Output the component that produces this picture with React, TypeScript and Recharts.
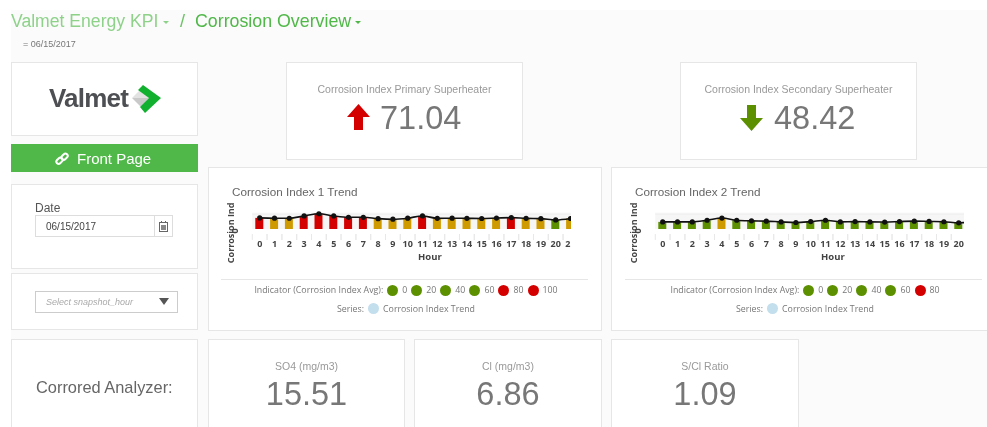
import React from "react";
import { Bar, CartesianGrid, Cell, ComposedChart, Line, XAxis, YAxis } from "recharts";

const hours = [0, 1, 2, 3, 4, 5, 6, 7, 8, 9, 10, 11, 12, 13, 14, 15, 16, 17, 18, 19, 20, 21];
const index1Values = [75, 73, 72.5, 88, 103, 88, 79, 79, 70, 66, 73, 88, 72, 73, 72, 71, 74, 77, 72, 70, 61, 71];
const index2Values = [48, 48, 48, 59, 74, 59, 55, 53, 48, 44, 50, 59, 48, 50, 48, 47, 50, 53, 51, 49, 42, 46];
const index1Legend = [0, 20, 40, 60, 80, 100];
const index2Legend = [0, 20, 40, 60, 80];

const RED = "#d40000";
const AMBER = "#cf9a00";
const GREEN = "#5c9000";
const FONT = "'Liberation Sans', Arial, sans-serif";
const AXIS_FONT = "'Open Sans', sans-serif";
const STEP = 14.8;

const barColor = (v: number) => (v >= 75 ? RED : v >= 65 ? AMBER : GREEN);

const Box = ({ x, y, w, h, children, style }: any) => (
  <div
    style={{
      position: "absolute",
      left: x,
      top: y,
      width: w,
      height: h,
      boxSizing: "border-box",
      background: "#fff",
      border: "1px solid #e6e6e6",
      ...style,
    }}
  >
    {children}
  </div>
);

const Txt = ({ x, y, children, style }: any) => (
  <div
    style={{
      position: "absolute",
      left: x,
      top: y,
      transform: "translateY(-50%)",
      whiteSpace: "nowrap",
      fontFamily: FONT,
      ...style,
    }}
  >
    {children}
  </div>
);

const Centered = ({ cx, y, w = 240, children, style }: any) => (
  <Txt x={cx - w / 2} y={y} style={{ width: w, textAlign: "center", ...style }}>
    {children}
  </Txt>
);

const Caret = ({ x, color }: any) => (
  <svg width={6} height={3} style={{ position: "absolute", left: x, top: 21 }}>
    <polygon points="0,0 6,0 3,3" fill={color} />
  </svg>
);

const HourTick = ({ x, y, payload }: any) => (
  <g>
    <line x1={x - STEP / 2} x2={x - STEP / 2} y1={y - 3} y2={y + 3} stroke="#e8e8e8" />
    <line x1={x + STEP / 2} x2={x + STEP / 2} y1={y - 3} y2={y + 3} stroke="#e8e8e8" />
    <text x={x} y={y + 10} textAnchor="middle" fontSize={9} fontWeight={700} fontFamily={AXIS_FONT} fill="#444">
      {payload.value}
    </text>
  </g>
);

const ZeroTick = ({ x, y, payload }: any) => (
  <text
    transform={`rotate(-90 ${x - 9} ${y + 2})`}
    x={x - 9}
    y={y + 5}
    textAnchor="middle"
    fontSize={9}
    fontWeight={700}
    fontFamily={AXIS_FONT}
    fill="#444"
  >
    {payload.value}
  </text>
);

const TrendChart = ({ values, left, clipRight }: any) => {
  const data = hours.map((hour, i) => ({ hour, value: values[i] }));
  return (
    <div style={{ position: "absolute", left, top: 198, width: clipRight - left, height: 68, overflow: "hidden" }}>
      <ComposedChart
        width={37.3 + STEP * hours.length}
        height={68}
        data={data}
        margin={{ top: 14.7, right: 0, bottom: 0, left: 0 }}
      >
        <CartesianGrid fill="#f6f6f6" vertical={false} stroke="#efefef" horizontalValues={[0, 25, 50, 75, 100]} />
        <XAxis
          dataKey="hour"
          interval={0}
          height={37}
          axisLine={false}
          tickLine={false}
          tick={<HourTick />}
          label={{
            value: "Hour",
            position: "insideBottom",
            offset: 6,
            dx: STEP,
            fontSize: 9.5,
            fontWeight: 700,
            fontFamily: AXIS_FONT,
            fill: "#444",
          }}
        />
        <YAxis
          width={37.3}
          domain={[0, 110]}
          ticks={[0]}
          axisLine={false}
          tickLine={false}
          tick={<ZeroTick />}
          label={{
            value: "Corrosion Ind",
            angle: -90,
            position: "center",
            dx: -3,
            dy: 12,
            fontSize: 9,
            fontWeight: 700,
            fontFamily: AXIS_FONT,
            fill: "#444",
          }}
        />
        <Bar dataKey="value" barSize={8} isAnimationActive={false}>
          {data.map((d) => (
            <Cell key={d.hour} fill={barColor(d.value)} />
          ))}
        </Bar>
        <Line
          dataKey="value"
          type="monotone"
          stroke="#111"
          strokeWidth={1.6}
          dot={{ r: 1.8, fill: "#111", stroke: "#111" }}
          isAnimationActive={false}
        />
      </ComposedChart>
    </div>
  );
};

const Dot = ({ color }: any) => (
  <span style={{ display: "inline-block", width: 11, height: 11, borderRadius: "50%", background: color, margin: "0 4px" }} />
);

const TrendLegend = ({ labels, left, width }: any) => (
  <div style={{ position: "absolute", left, width, top: 279, fontFamily: AXIS_FONT, fontSize: 8.8, color: "#777" }}>
    <div style={{ borderTop: "1px solid #e6e6e6" }} />
    <div style={{ display: "flex", justifyContent: "center", alignItems: "center", height: 20, marginLeft: 3 }}>
      <span>Indicator (Corrosion Index Avg):</span>
      {labels.map((l: number) => (
        <span key={l} style={{ display: "flex", alignItems: "center" }}>
          <Dot color={l >= 80 ? RED : GREEN} />
          <span>{l}</span>
        </span>
      ))}
    </div>
    <div style={{ display: "flex", justifyContent: "center", alignItems: "center", height: 17, marginLeft: 3 }}>
      <span>Series:</span>
      <Dot color="#c3deec" />
      <span>Corrosion Index Trend</span>
    </div>
  </div>
);

// logo artwork, drawn in page pixels
const Logo = () => (
  <svg width={187} height={74} viewBox="11 62 187 74" style={{ position: "absolute", left: 11, top: 62 }}>
    <text x={49} y={107} fontFamily={FONT} fontWeight={700} fontSize={26} letterSpacing={-0.8} fill="#4d4f53">
      Valmet
    </text>
    <polygon points="132,98 141,89 149,98" fill="#e2e2e2" />
    <polygon points="132,98 149,98 141,107" fill="#c9c9c9" />
    <polygon points="143,85 161,98 145,113 140,107 149,98 138,90" fill="#12b02f" />
  </svg>
);

const Arrow = ({ x, y, color, down }: any) => (
  <svg width={23} height={26} style={{ position: "absolute", left: x, top: y }}>
    <polygon
      points="11.5,0 23,13 16,13 16,26 7,26 7,13 0,13"
      fill={color}
      transform={down ? "rotate(180 11.5 13)" : undefined}
    />
  </svg>
);

const Kpi = ({ x, w, y, h, title, value, titleY, valueY }: any) => (
  <>
    <Box x={x} y={y} w={w} h={h} />
    <Centered cx={x + w / 2} y={titleY} style={{ fontSize: 10.5, color: "#999" }}>
      {title}
    </Centered>
    <Centered cx={x + w / 2} y={valueY} style={{ fontSize: 32.5, color: "#777" }}>
      {value}
    </Centered>
  </>
);

export default function App() {
  return (
    <div
      style={{
        position: "fixed",
        left: 0,
        top: 0,
        width: 987,
        height: 427,
        overflow: "hidden",
        background: "#fff",
        filter: "blur(0.35px)",
      }}
    >
      <div style={{ position: "absolute", left: 11, top: 10, width: 976, height: 417, background: "#fbfbfb" }} />

      <Txt x={11} y={21} style={{ fontSize: 17.6, color: "#8ed28a" }}>
        Valmet Energy KPI
      </Txt>
      <Caret x={163} color="#8ed28a" />
      <Txt x={180} y={21} style={{ fontSize: 18, color: "#6cc266" }}>
        /
      </Txt>
      <Txt x={195} y={21} style={{ fontSize: 17.8, color: "#50b848" }}>
        Corrosion Overview
      </Txt>
      <Caret x={355} color="#50b848" />
      <Txt x={23} y={44} style={{ fontSize: 9, color: "#777" }}>
        = 06/15/2017
      </Txt>

      <Box x={11} y={62} w={187} h={74} />
      <Logo />

      <div style={{ position: "absolute", left: 11, top: 144, width: 187, height: 28, background: "#50b848" }} />
      <svg width={14} height={14} style={{ position: "absolute", left: 55, top: 152 }}>
        <g fill="none" stroke="#fff" strokeWidth={2}>
          <rect x={1} y={6.5} width={7} height={4.5} rx={2.2} transform="rotate(-45 4.5 8.7)" />
          <rect x={6} y={2.5} width={7} height={4.5} rx={2.2} transform="rotate(-45 9.5 4.7)" />
        </g>
      </svg>
      <Txt x={77} y={158} style={{ fontSize: 15, color: "#fff" }}>
        Front Page
      </Txt>

      <Box x={11} y={184} w={187} h={85} />
      <Txt x={35} y={208} style={{ fontSize: 12, color: "#555" }}>
        Date
      </Txt>
      <Box x={35} y={215} w={138} h={22} style={{ border: "1px solid #ddd" }} />
      <div style={{ position: "absolute", left: 154, top: 215, width: 1, height: 22, background: "#ddd" }} />
      <Txt x={46} y={226} style={{ fontSize: 10, color: "#444" }}>
        06/15/2017
      </Txt>
      <svg width={10} height={11} style={{ position: "absolute", left: 159, top: 221 }}>
        <rect x={0.5} y={1.5} width={8} height={9} fill="none" stroke="#666" />
        <rect x={2} y={4} width={5} height={5} fill="#888" />
        <rect x={2} y={0} width={1} height={2} fill="#666" />
        <rect x={6} y={0} width={1} height={2} fill="#666" />
      </svg>

      <Box x={11} y={273} w={187} h={57} />
      <Box x={35} y={291} w={143} h={22} style={{ border: "1px solid #ccc" }} />
      <Txt x={46} y={302} style={{ fontSize: 9, fontStyle: "italic", color: "#aaa" }}>
        Select snapshot_hour
      </Txt>
      <svg width={10} height={7} style={{ position: "absolute", left: 159, top: 298 }}>
        <polygon points="0,0 10,0 5,7" fill="#555" />
      </svg>

      <Box x={11} y={339} w={187} h={100} />
      <Txt x={36} y={387} style={{ fontSize: 16.4, color: "#666" }}>
        Corrored Analyzer:
      </Txt>

      <Kpi x={286} y={62} w={237} h={98} title="Corrosion Index Primary Superheater" titleY={89} value="" valueY={118} />
      <Arrow x={347} y={104} color={RED} />
      <Txt x={380} y={118} style={{ fontSize: 32.5, color: "#777" }}>
        71.04
      </Txt>
      <Kpi x={680} y={62} w={237} h={98} title="Corrosion Index Secondary Superheater" titleY={89} value="" valueY={118} />
      <Arrow x={740} y={105} color={GREEN} down />
      <Txt x={774} y={118} style={{ fontSize: 32.5, color: "#777" }}>
        48.42
      </Txt>

      <Box x={208} y={167} w={394} h={164} />
      <Txt x={232} y={191} style={{ fontSize: 11.7, color: "#666" }}>
        Corrosion Index 1 Trend
      </Txt>
      <TrendChart values={index1Values} left={215} clipRight={570.7} />
      <TrendLegend labels={index1Legend} left={221} width={367} />

      <Box x={611} y={167} w={380} h={164} />
      <Txt x={635} y={191} style={{ fontSize: 11.7, color: "#666" }}>
        Corrosion Index 2 Trend
      </Txt>
      <TrendChart values={index2Values} left={618} clipRight={964} />
      <TrendLegend labels={index2Legend} left={625} width={357} />

      <Kpi x={208} y={339} w={197} h={100} title="SO4 (mg/m3)" titleY={366} value="15.51" valueY={394} />
      <Kpi x={414} y={339} w={188} h={100} title="Cl (mg/m3)" titleY={366} value="6.86" valueY={394} />
      <Kpi x={611} y={339} w={188} h={100} title="S/Cl Ratio" titleY={366} value="1.09" valueY={394} />
    </div>
  );
}
